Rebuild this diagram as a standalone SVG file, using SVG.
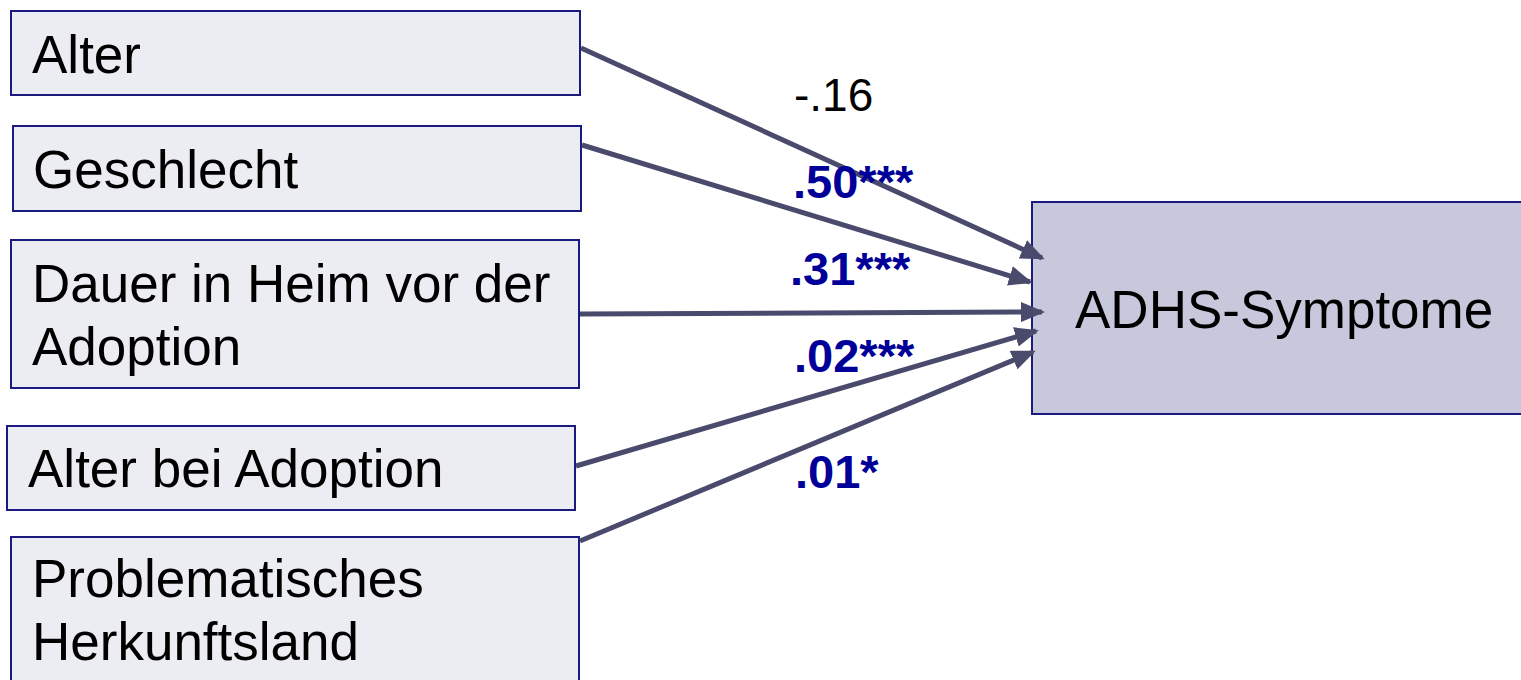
<svg xmlns="http://www.w3.org/2000/svg" width="1521" height="680" viewBox="0 0 1521 680">
<style>
.box{fill:#ECECF3;stroke:#1A1A80;stroke-width:2}
.tgt{fill:#C8C8DC;stroke:#1A1A80;stroke-width:2}
.lbl{font-family:"Liberation Sans",Arial,sans-serif;font-size:53px;fill:#000}
.coef{font-family:"Liberation Sans",Arial,sans-serif;font-size:47px;font-weight:bold;fill:#000099}
.coefn{font-family:"Liberation Sans",Arial,sans-serif;font-size:46px;fill:#000}
.arr{stroke:#4A4A6C;stroke-width:5;fill:none;marker-end:url(#ah)}
</style>
<defs>
<marker id="ah" markerUnits="userSpaceOnUse" markerWidth="24" markerHeight="20" viewBox="0 0 24 20" refX="21" refY="10" orient="auto">
<path d="M0,0 L24,10 L0,20 z" fill="#4A4A6C"/>
</marker>
</defs>
<g id="n-alter"><rect class="box" x="11" y="11" width="569" height="84"/><text class="lbl" x="32" y="73">Alter</text></g>
<g id="n-geschlecht"><rect class="box" x="13" y="126" width="568" height="85"/><text class="lbl" x="33" y="188">Geschlecht</text></g>
<g id="n-dauer"><rect class="box" x="11" y="240" width="568" height="148"/><text class="lbl" x="32" y="302">Dauer in Heim vor der</text><text class="lbl" x="32" y="365">Adoption</text></g>
<g id="n-alterbei"><rect class="box" x="7" y="426" width="568" height="84"/><text class="lbl" x="28" y="487">Alter bei Adoption</text></g>
<g id="n-herkunft"><rect class="box" x="11" y="537" width="568" height="150"/><text class="lbl" x="32" y="597">Problematisches</text><text class="lbl" x="32" y="660">Herkunftsland</text></g>
<g id="n-adhs"><rect class="tgt" x="1032" y="202" width="495" height="212"/><text class="lbl" x="1075" y="328">ADHS-Symptome</text></g>
<g id="connectors">
<line class="arr" x1="581" y1="48" x2="1042" y2="258"/>
<line class="arr" x1="582" y1="145" x2="1030" y2="282"/>
<line class="arr" x1="580" y1="314" x2="1042" y2="312"/>
<line class="arr" x1="576" y1="466" x2="1036" y2="331"/>
<line class="arr" x1="580" y1="541" x2="1033" y2="352"/>
</g>
<g id="labels">
<text class="coefn" x="794" y="111">-.16</text>
<text class="coef" x="793" y="198">.50***</text>
<text class="coef" x="790" y="285">.31***</text>
<text class="coef" x="794" y="372">.02***</text>
<text class="coef" x="795" y="488">.01*</text>
</g>
</svg>
